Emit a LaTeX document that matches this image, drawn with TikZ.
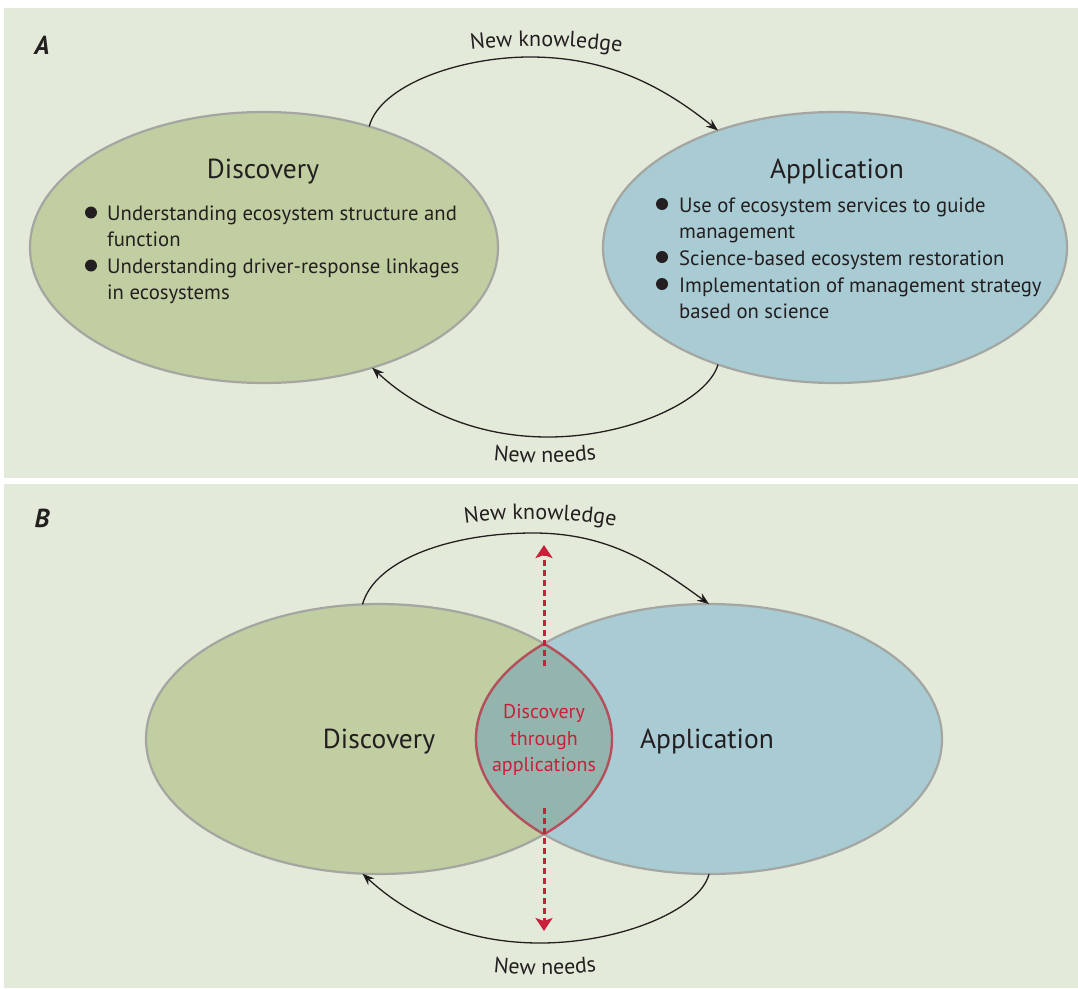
\documentclass[tikz,border=0pt]{standalone}
\usepackage{fontspec}
\setmainfont{PT Sans}
\usetikzlibrary{shapes.geometric,arrows.meta,decorations.text}
\definecolor{bgc}{HTML}{E4EAD9}
\definecolor{greenc}{HTML}{C1CEA2}
\definecolor{bluec}{HTML}{A9CBD3}
\definecolor{lensc}{HTML}{94B5AE}
\definecolor{bordc}{HTML}{A3A6A1}
\definecolor{txtc}{HTML}{231F20}
\definecolor{redc}{HTML}{C8203A}
\definecolor{lensline}{HTML}{B4505C}
\newcommand\lblfont{\fontsize{22}{24}\selectfont}
\tikzset{
  ell/.style={ellipse, draw=bordc, line width=2.2pt, inner sep=0pt, outer sep=0pt},
  discell/.style={ell, fill=greenc},
  applell/.style={ell, fill=bluec},
  head/.style={anchor=base, font=\fontsize{27.5}{30}\selectfont, text=txtc, inner sep=0pt},
  itemtxt/.style={anchor=base west, font=\fontsize{20.7}{24}\selectfont, text=txtc, inner sep=0pt},
  lenstxt/.style={anchor=base, font=\fontsize{20}{24}\selectfont, text=redc, inner sep=0pt},
  paneltag/.style={font=\fontsize{26}{28}\selectfont\bfseries\itshape, text=txtc, inner sep=0pt},
  bul/.style={fill=txtc},
  cyc/.style={line width=1.3pt, draw=txtc, -{Stealth[length=12pt,width=9pt]}},
  reddash/.style={draw=redc, line width=3pt, dash pattern=on 6pt off 4pt, -{Stealth[length=13pt,width=17pt,inset=3pt]}},
  curvelbl/.style={decorate, decoration={text along path, text align=center, text color=txtc, text={|\lblfont|#1}}}
}
\begin{document}
\begin{tikzpicture}[x=1pt,y=-1pt]
\useasboundingbox (0,0) rectangle (1078,988);
\fill[white] (0,0) rectangle (1078,988);
\fill[bgc] (4,8) rectangle (1078,478);
\fill[bgc] (4,484) rectangle (1078,988);

% ---------------- Panel A ----------------
\node[paneltag] (tagA) at (42,45) {A};
\node[discell, minimum width=468pt, minimum height=271pt] (dA) at (264,247.5) {};
\node[applell, minimum width=464pt, minimum height=271pt] (aA) at (835,247.5) {};

\node[head] (hdA) at (263,178) {Discovery};
\node[head] (haA) at (837,178) {Application};

\fill[bul] (91,212.5) circle[radius=6pt];
\node[itemtxt] (l1a) at (107,220) {Understanding ecosystem structure and};
\node[itemtxt] (l1b) at (107,246) {function};
\fill[bul] (91,265.5) circle[radius=6pt];
\node[itemtxt] (l2a) at (107,273) {Understanding driver-response linkages};
\node[itemtxt] (l2b) at (107,299) {in ecosystems};

\fill[bul] (662,204) circle[radius=6pt];
\node[itemtxt] (r1a) at (679,212) {Use of ecosystem services to guide};
\node[itemtxt] (r1b) at (679,238) {management};
\fill[bul] (662,257) circle[radius=6pt];
\node[itemtxt] (r2a) at (679,265) {Science-based ecosystem restoration};
\fill[bul] (662,284) circle[radius=6pt];
\node[itemtxt] (r3a) at (679,292) {Implementation of management strategy};
\node[itemtxt] (r3b) at (679,318) {based on science};

\draw[cyc] (dA.49) .. controls (380,85) and (460,57) .. (530,57)
  .. controls (610,57) and (665,88) .. (aA.135);
\draw[cyc] (aA.225) .. controls (708,400) and (630,437) .. (548,437)
  .. controls (470,437) and (412,405) .. (dA.312);

\path[curvelbl={New knowledge}] (462,51) .. controls (512,44) and (578,44) .. (630,54);
\path[curvelbl={New needs}] (486,459) .. controls (520,464) and (570,464) .. (604,458);

% ---------------- Panel B ----------------
\node[paneltag] (tagB) at (42,518) {B};
\node[discell, minimum width=466pt, minimum height=270pt] (dB) at (379,739) {};
\node[applell, minimum width=466pt, minimum height=270pt] (aB) at (709,739) {};

\begin{scope}
  \clip (709,739) ellipse [x radius=233pt, y radius=135pt];
  \fill[lensc] (379,739) ellipse [x radius=233pt, y radius=135pt];
  \draw[lensline, line width=2.4pt] (379,739) ellipse [x radius=233pt, y radius=135pt];
\end{scope}
\begin{scope}
  \clip (379,739) ellipse [x radius=233pt, y radius=135pt];
  \draw[lensline, line width=2.4pt] (709,739) ellipse [x radius=233pt, y radius=135pt];
\end{scope}

\node[head] (hdB) at (379,748) {Discovery};
\node[head] (haB) at (707,748) {Application};
\node[lenstxt] (lt1) at (544,718) {Discovery};
\node[lenstxt] (lt2) at (544,745) {through};
\node[lenstxt] (lt3) at (544,771) {applications};

\coordinate (ru0) at (544,666);
\coordinate (ru1) at (544,545);
\coordinate (rd0) at (544,808);
\coordinate (rd1) at (544,931);
\draw[reddash] (ru0) -- (ru1);
\draw[reddash] (rd0) -- (rd1);

\draw[cyc] (dB.97) .. controls (375,560) and (450,533) .. (533,533)
  .. controls (610,533) and (655,565) .. (aB.north);
\draw[cyc] (aB.south) .. controls (700,910) and (620,943) .. (540,943)
  .. controls (460,943) and (404,912) .. (dB.263);

\path[curvelbl={New knowledge}] (456,525) .. controls (506,517) and (572,517) .. (624,528);
\path[curvelbl={New needs}] (486,971) .. controls (520,976) and (570,976) .. (604,970);
\end{tikzpicture}
\end{document}
